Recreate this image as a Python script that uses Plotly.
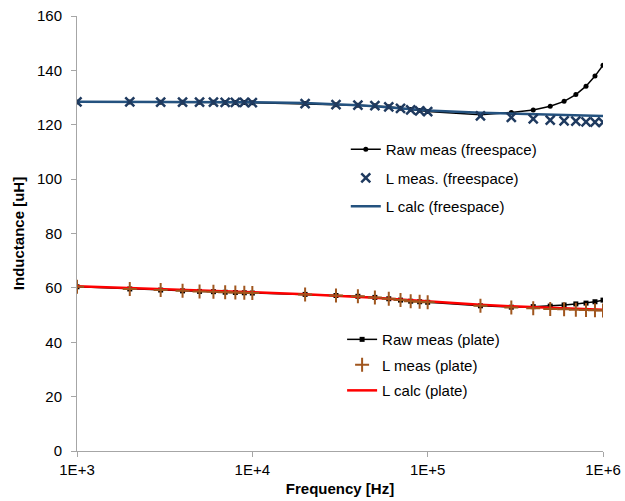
import plotly.graph_objects as go

freq = [1e3, 2e3, 3e3, 4e3, 5e3, 6e3, 7e3, 8e3, 9e3,
        1e4, 2e4, 3e4, 4e4, 5e4, 6e4, 7e4, 8e4, 9e4,
        1e5, 2e5, 3e5, 4e5, 5e5, 6e5, 7e5, 8e5, 9e5, 1e6]

raw_free = [128.4, 128.4, 128.3, 128.3, 128.3, 128.3, 128.2, 128.2, 128.2,
            128.1, 127.8, 127.4, 127.2, 127.0, 126.6, 126.1, 125.6, 125.2,
            124.9, 123.7, 124.5, 125.4, 126.8, 128.6, 131.1, 134.2, 137.9, 141.9]
meas_free = [128.4, 128.4, 128.3, 128.3, 128.3, 128.3, 128.2, 128.2, 128.2,
             128.1, 127.8, 127.4, 127.2, 127.0, 126.6, 126.0, 125.5, 125.1,
             124.8, 123.3, 122.7, 122.2, 121.7, 121.4, 121.3, 121.1, 121.0, 120.9]
calc_free = [128.5, 128.5, 128.5, 128.4, 128.4, 128.4, 128.4, 128.3, 128.3,
             128.3, 128.0, 127.6, 127.2, 126.8, 126.4, 126.0, 125.7, 125.4,
             125.2, 124.4, 124.1, 123.9, 123.8, 123.6, 123.5, 123.4, 123.3, 123.2]

raw_plate = [60.4, 59.6, 59.2, 58.9, 58.7, 58.6, 58.4, 58.3, 58.2,
             58.1, 57.6, 57.2, 56.9, 56.5, 56.0, 55.5, 55.1, 54.9,
             54.7, 53.4, 52.9, 53.1, 53.3, 53.7, 54.1, 54.4, 54.9, 55.5]
meas_plate = [60.4, 59.6, 59.2, 58.9, 58.7, 58.6, 58.4, 58.3, 58.2,
              58.1, 57.6, 57.2, 56.9, 56.5, 56.0, 55.5, 55.1, 54.9,
              54.7, 53.4, 52.8, 52.5, 52.2, 52.1, 52.0, 51.9, 51.8, 51.7]
calc_plate = [60.6, 60.0, 59.6, 59.3, 59.1, 58.9, 58.8, 58.6, 58.5,
              58.4, 57.7, 57.2, 56.8, 56.4, 56.0, 55.7, 55.4, 55.2,
              55.0, 53.8, 53.2, 52.9, 52.6, 52.4, 52.3, 52.2, 52.1, 52.0]

x_tickvals = [1e3, 1e4, 1e5, 1e6]
x_ticktext = ["1E+3", "1E+4", "1E+5", "1E+6"]

NAVY = "#1F3A5F"
BLUE = "#24527F"
BROWN = "#A0561E"
RED = "#FF0000"
FONT = "Liberation Sans, Arial, sans-serif"

fig = go.Figure()

# freespace
fig.add_trace(go.Scatter(x=freq, y=raw_free, mode="lines+markers", name="Raw meas (freespace)",
                         line=dict(color="black", width=1.5), marker=dict(symbol="circle", size=5, color="black"),
                         legend="legend", legendrank=1, legendgroup="a"))
fig.add_trace(go.Scatter(x=freq, y=calc_free, mode="lines", name="L calc (freespace)",
                         line=dict(color=BLUE, width=2.5),
                         legend="legend", legendrank=3, legendgroup="c"))
fig.add_trace(go.Scatter(x=freq, y=meas_free, mode="markers", name="L meas. (freespace)",
                         marker=dict(symbol="x-thin", size=9, color=NAVY, line=dict(color=NAVY, width=2.5)),
                         legend="legend", legendrank=2, legendgroup="b"))

# plate
fig.add_trace(go.Scatter(x=freq, y=raw_plate, mode="lines+markers", name="Raw meas (plate)",
                         line=dict(color="black", width=1.5), marker=dict(symbol="square", size=5, color="black"),
                         legend="legend2", legendrank=1, legendgroup="d"))
fig.add_trace(go.Scatter(x=freq, y=calc_plate, mode="lines", name="L calc (plate)",
                         line=dict(color=RED, width=2.5),
                         legend="legend2", legendrank=3, legendgroup="f"))
fig.add_trace(go.Scatter(x=freq, y=meas_plate, mode="markers", name="L meas (plate)",
                         marker=dict(symbol="cross-thin", size=10, color=BROWN, line=dict(color=BROWN, width=2)),
                         legend="legend2", legendrank=2, legendgroup="e"))

fig.update_layout(
    width=625, height=501,
    margin=dict(l=77, r=22, t=16, b=50),
    paper_bgcolor="white", plot_bgcolor="white",
    font=dict(family=FONT, size=15, color="black"),
    showlegend=True,
    legend=dict(x=0.511, y=0.731, xanchor="left", yanchor="top", bgcolor="rgba(0,0,0,0)",
                font=dict(size=15), tracegroupgap=6, traceorder="grouped", itemwidth=30),
    legend2=dict(x=0.504, y=0.294, xanchor="left", yanchor="top", bgcolor="rgba(0,0,0,0)",
                 font=dict(size=15), tracegroupgap=3, traceorder="grouped", itemwidth=30),
    xaxis=dict(type="log", range=[3, 6], tickvals=x_tickvals, ticktext=x_ticktext,
               showgrid=False, zeroline=False, showline=True, linecolor="#A6A6A6", linewidth=1,
               ticks="outside", ticklen=5, tickcolor="#A6A6A6", automargin=False,
               title=dict(text="<b>Frequency [Hz]</b>", standoff=6, font=dict(size=15)),
               tickfont=dict(size=15)),
    yaxis=dict(range=[0, 160], dtick=20, showgrid=False, zeroline=False,
               showline=True, linecolor="#A6A6A6", linewidth=1,
               ticks="outside", ticklen=5, tickcolor="#A6A6A6", automargin=False,
               ticklabelstandoff=6,
               title=dict(text="<b>Inductance [uH]</b>", standoff=8, font=dict(size=15)),
               tickfont=dict(size=15)),
)

fig.write_html("out.html", config={"displayModeBar": False},
               post_script="document.body.style.margin='0px';")
